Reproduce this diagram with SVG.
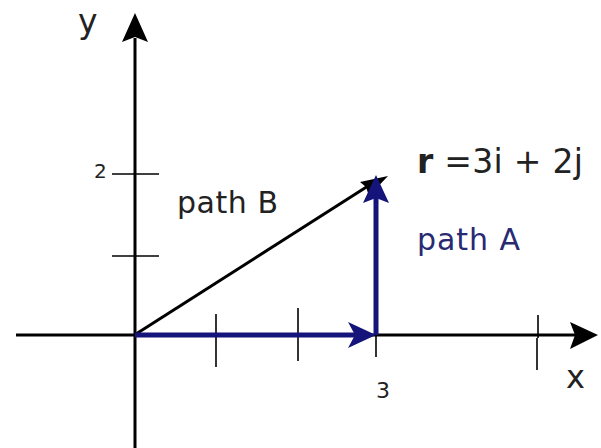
<svg xmlns="http://www.w3.org/2000/svg" width="601" height="448" viewBox="0 0 601 448">
<style>
.ax{stroke:#000;stroke-width:3;fill:none}
.tk{stroke:#000;stroke-width:1.6;fill:none}
.bl{stroke:#14147a;stroke-width:5;fill:none}
.t{font-family:"DejaVu Sans",sans-serif;fill:#222}
</style>
<rect width="601" height="448" fill="#fff"/>
<g id="connectors">
<line class="ax" x1="135" y1="448" x2="135" y2="38"/>
<polygon points="135,13 148,42 135,37 122,42" fill="#000"/>
<line class="ax" x1="16" y1="335" x2="575" y2="335"/>
<polygon points="598,335 570,322 575,335 570,349" fill="#000"/>
<line class="tk" x1="112" y1="174" x2="159" y2="174"/>
<line class="tk" x1="112" y1="256" x2="159" y2="256"/>
<line class="tk" x1="216" y1="314" x2="216" y2="367"/>
<line class="tk" x1="298" y1="308" x2="298" y2="361"/>
<line class="tk" x1="376" y1="300" x2="376" y2="357"/>
<line class="tk" x1="538" y1="315" x2="538" y2="338"/>
<line class="tk" x1="537" y1="338" x2="537" y2="370"/>
<line stroke="#000" stroke-width="3" x1="136" y1="334" x2="368" y2="186"/>
<polygon points="388,176 369,196 366,187 360,182" fill="#000"/>
<line class="bl" x1="135" y1="335" x2="355" y2="335"/>
<polygon points="376,335 348,322 355,335 348,348" fill="#14147a"/>
<line class="bl" x1="376" y1="335" x2="376" y2="198"/>
<polygon points="376,175 389,203 376,198 363,203" fill="#14147a"/>
</g>
<g id="labels">
<text class="t" x="78" y="33" font-size="33">y</text>
<text class="t" x="566" y="388" font-size="32">x</text>
<text class="t" x="94" y="178" font-size="20">2</text>
<text class="t" x="376" y="398" font-size="22">3</text>
<text class="t" x="177" y="213" font-size="30" textLength="101" lengthAdjust="spacing">path B</text>
<text class="t" x="417" y="250" font-size="30" textLength="103" lengthAdjust="spacing" style="fill:#2a2a72">path A</text>
<text class="t" x="417" y="173" font-size="33" textLength="166" lengthAdjust="spacing"><tspan font-weight="bold">r</tspan> =3i + 2j</text>
</g>
</svg>
